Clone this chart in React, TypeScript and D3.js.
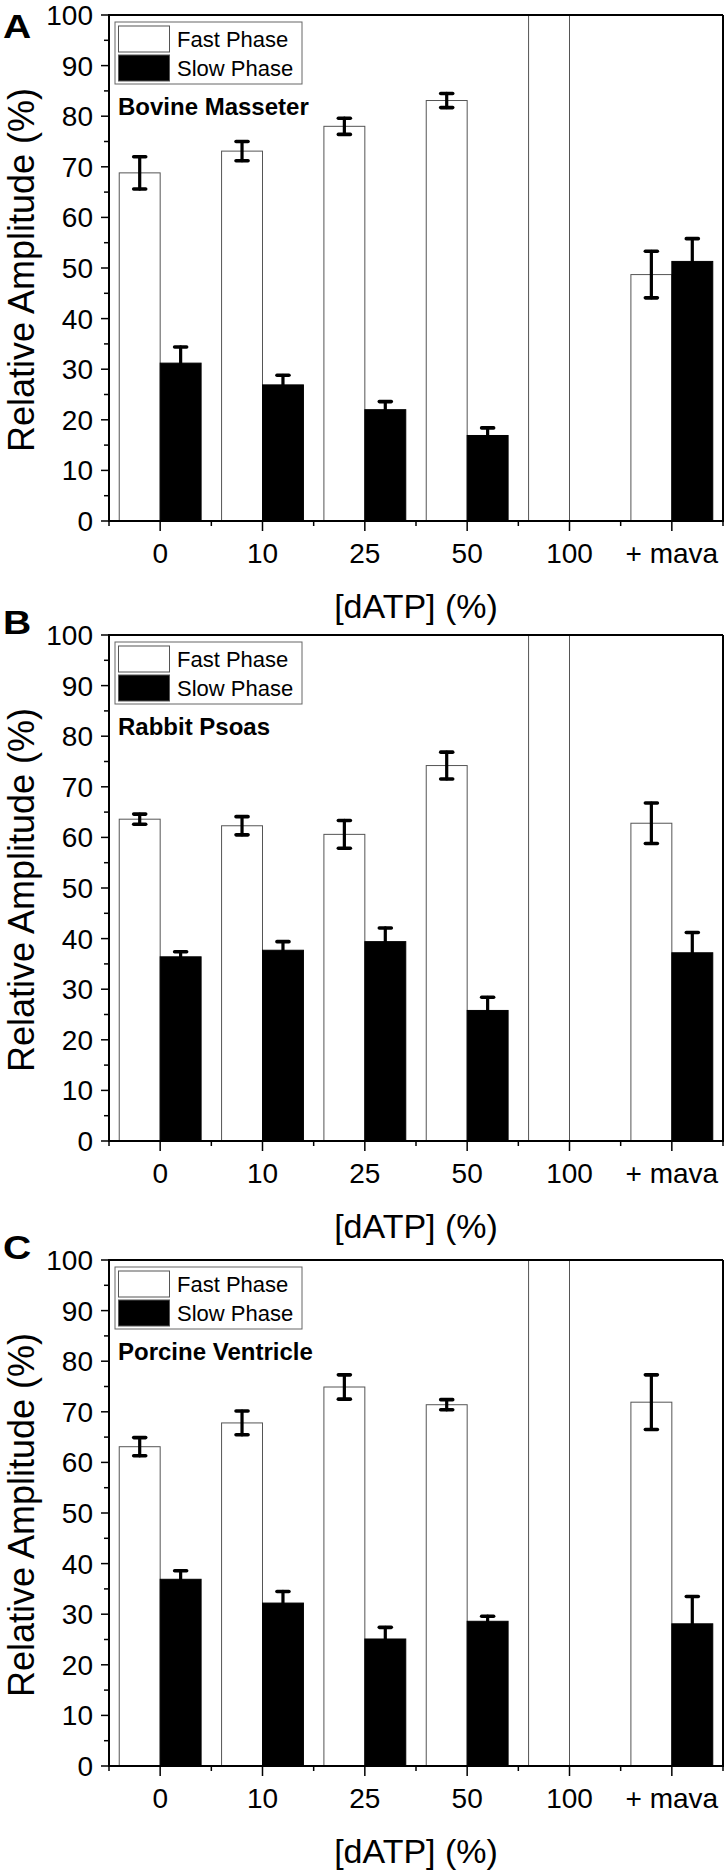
import React from 'react';
import * as d3 from 'd3';

const categories = ['0', '10', '25', '50', '100', '+ mava'];

const fastA = [68.8, 73.1, 78.0, 83.1, 100, 48.7];
const fastErrA = [3.2, 1.9, 1.6, 1.4, 0, 4.6];
const slowA = [31.2, 26.9, 22.0, 16.9, 0, 51.3];
const slowErrA = [3.2, 1.9, 1.6, 1.5, 0, 4.5];

const fastB = [63.6, 62.3, 60.6, 74.2, 100, 62.8];
const fastErrB = [1.0, 1.8, 2.75, 2.65, 0, 4.0];
const slowB = [36.4, 37.7, 39.4, 25.8, 0, 37.2];
const slowErrB = [1.0, 1.7, 2.7, 2.6, 0, 4.0];

const fastC = [63.1, 67.8, 74.9, 71.4, 100, 71.9];
const fastErrC = [1.8, 2.35, 2.4, 1.0, 0, 5.4];
const slowC = [36.9, 32.2, 25.1, 28.6, 0, 28.1];
const slowErrC = [1.7, 2.3, 2.3, 1.0, 0, 5.4];

const yTicks = [0, 10, 20, 30, 40, 50, 60, 70, 80, 90, 100];
const yMinor = [5, 15, 25, 35, 45, 55, 65, 75, 85, 95];

const panels = [
  { letter: 'A', name: 'Bovine Masseter', top: 15, letterY: 38, fast: fastA, fastErr: fastErrA, slow: slowA, slowErr: slowErrA },
  { letter: 'B', name: 'Rabbit Psoas', top: 635, letterY: 634, fast: fastB, fastErr: fastErrB, slow: slowB, slowErr: slowErrB },
  { letter: 'C', name: 'Porcine Ventricle', top: 1260, letterY: 1259, fast: fastC, fastErr: fastErrC, slow: slowC, slowErr: slowErrC },
];

const FONT = '"Liberation Sans", Arial, sans-serif';
const W = 726;
const H = 1871;
const left = 109;
const right = 723;
const plotH = 506;

const x = d3.scaleBand<string>().domain(categories).range([left, right]).paddingInner(0.2).paddingOuter(0.1);

function ErrorBar({ cx, y0, y1, capTop, capBottom }) {
  const cw = 6;
  return (
    <g stroke="#000" strokeWidth={3.2} strokeLinecap="round">
      <line x1={cx} x2={cx} y1={y0} y2={y1} />
      {capTop && <line x1={cx - cw} x2={cx + cw} y1={y1} y2={y1} strokeWidth={3.6} />}
      {capBottom && <line x1={cx - cw} x2={cx + cw} y1={y0} y2={y0} strokeWidth={3.6} />}
    </g>
  );
}

function Panel({ p }) {
  const bottom = p.top + plotH;
  const y = d3.scaleLinear().domain([0, 100]).range([bottom, p.top]);
  const bw = x.bandwidth() / 2;
  const step = x.step();
  const minorX = d3.range(categories.length + 1).map(i => left + i * step);

  return (
    <g fontFamily={FONT}>
      {/* bars */}
      {categories.map((c, i) => {
        const x0 = x(c);
        const cx = x0 + bw;
        return (
          <g key={c}>
            {p.fast[i] > 0 && (
              <rect x={x0} y={y(p.fast[i])} width={bw} height={bottom - y(p.fast[i])}
                fill="#fff" stroke="#555" strokeWidth={1} />
            )}
            {p.slow[i] > 0 && (
              <rect x={cx} y={y(p.slow[i])} width={bw} height={bottom - y(p.slow[i])}
                fill="#000" stroke="#000" strokeWidth={1} />
            )}
          </g>
        );
      })}
      {/* error bars */}
      {categories.map((c, i) => {
        const x0 = x(c);
        const out = [];
        if (p.fastErr[i] > 0) {
          out.push(<ErrorBar key={c + 'f'} cx={x0 + bw / 2} y0={y(p.fast[i] - p.fastErr[i])}
            y1={y(p.fast[i] + p.fastErr[i])} capTop capBottom />);
        }
        if (p.slowErr[i] > 0) {
          out.push(<ErrorBar key={c + 's'} cx={x0 + bw * 1.5} y0={y(p.slow[i])}
            y1={y(p.slow[i] + p.slowErr[i])} capTop capBottom={false} />);
        }
        return out;
      })}

      {/* frame */}
      <line x1={left} x2={right} y1={p.top} y2={p.top} stroke="#000" strokeWidth={2} />
      <line x1={right} x2={right} y1={p.top} y2={bottom} stroke="#000" strokeWidth={2} />
      <line x1={left} x2={left} y1={p.top - 1} y2={bottom + 1} stroke="#000" strokeWidth={2} />
      <line x1={left - 1} x2={right + 1} y1={bottom} y2={bottom} stroke="#000" strokeWidth={2} />

      {/* y ticks */}
      {yTicks.map(t => (
        <g key={t}>
          <line x1={left - 8} x2={left} y1={y(t)} y2={y(t)} stroke="#000" strokeWidth={1.5} />
          <text x={left - 16} y={y(t)} dy="0.36em" textAnchor="end" fontSize={28}>{t}</text>
        </g>
      ))}
      {yMinor.map(t => (
        <line key={t} x1={left - 5} x2={left} y1={y(t)} y2={y(t)} stroke="#000" strokeWidth={1.5} />
      ))}

      {/* x ticks */}
      {categories.map(c => {
        const cx = x(c) + bw;
        return (
          <g key={c}>
            <line x1={cx} x2={cx} y1={bottom} y2={bottom + 10} stroke="#000" strokeWidth={1.5} />
            <text x={cx} y={bottom + 42} textAnchor="middle" fontSize={28}>{c}</text>
          </g>
        );
      })}
      {minorX.map((mx, i) => (
        <line key={i} x1={mx} x2={mx} y1={bottom} y2={bottom + 5} stroke="#000" strokeWidth={1.5} />
      ))}

      {/* axis titles */}
      <text x={(left + right) / 2} y={bottom + 97} textAnchor="middle" fontSize={34}>[dATP] (%)</text>
      <text transform={`translate(34, ${(p.top + bottom) / 2 + 2}) rotate(-90)`} textAnchor="middle" fontSize={36}>
        Relative Amplitude (%)
      </text>

      {/* panel letter */}
      <text transform={`translate(3, ${p.letterY}) scale(1.15, 1)`} fontSize={34} fontWeight="bold">{p.letter}</text>

      {/* legend */}
      <rect x={115} y={p.top + 7} width={187} height={62} fill="#fff" stroke="#666" strokeWidth={1} />
      <rect x={118.5} y={p.top + 11} width={51} height={26} fill="#fff" stroke="#555" strokeWidth={1} />
      <rect x={118.5} y={p.top + 40} width={51} height={26} fill="#000" stroke="#555" strokeWidth={1} />
      <text x={177} y={p.top + 32} fontSize={22}>Fast Phase</text>
      <text x={177} y={p.top + 61} fontSize={22}>Slow Phase</text>

      <text x={118} y={p.top + 100} fontSize={24} fontWeight="bold">{p.name}</text>
    </g>
  );
}

export default function App() {
  return (
    <svg width={W} height={H} style={{ position: 'absolute', left: 0, top: 0, background: '#fff' }}>
      <rect x={0} y={0} width={W} height={H} fill="#fff" />
      {panels.map(p => <Panel key={p.letter} p={p} />)}
    </svg>
  );
}
